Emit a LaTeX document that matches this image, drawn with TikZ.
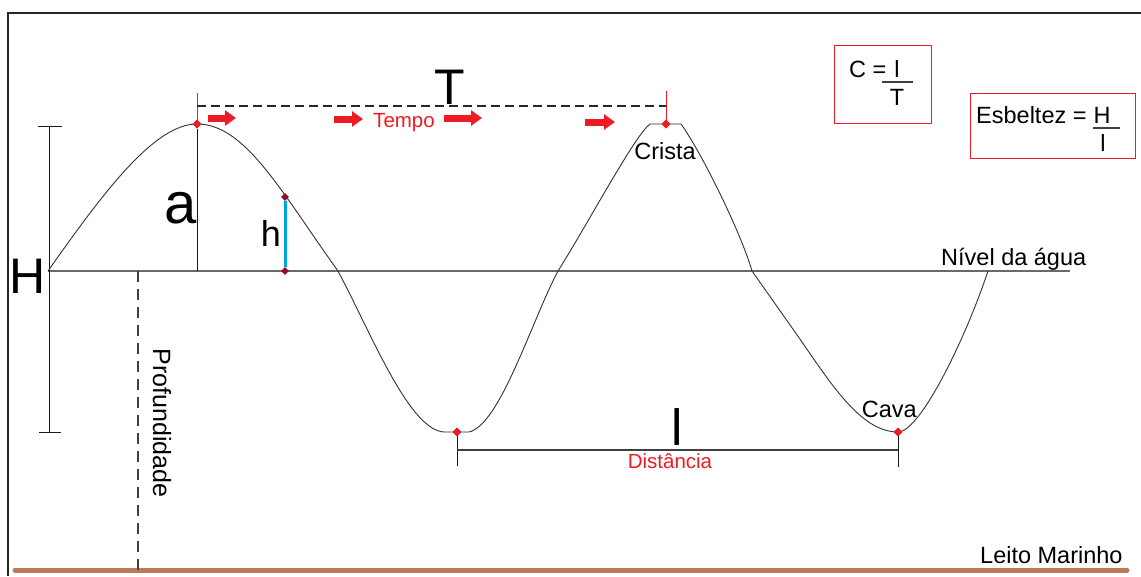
\documentclass[tikz,border=0pt]{standalone}
\usepackage{fontspec}
\setmainfont{Liberation Sans}
\usetikzlibrary{arrows.meta,shapes.geometric}
\definecolor{wred}{RGB}{237,28,36}
\definecolor{dred}{RGB}{150,10,40}
\definecolor{hblue}{RGB}{0,162,232}
\definecolor{bed}{RGB}{185,122,87}
\definecolor{wgray}{RGB}{105,105,105}
\begin{document}
\begin{tikzpicture}[x=1pt,y=-1pt,
  txt/.style={inner sep=0pt, font=\fontsize{23.5}{26}\selectfont},
  rtxt/.style={inner sep=0pt, text=wred, font=\fontsize{20.5}{22}\selectfont},
  bigtxt/.style={inner sep=0pt, font=\fontsize{50}{54}\selectfont},
  wave/.style={draw=black!80, line width=0.9pt},
  rdia/.style={diamond, fill=wred, inner sep=0pt, minimum size=9pt},
  ddia/.style={diamond, fill=dred, inner sep=0pt, minimum size=8pt},
  dimline/.style={draw=black!90, line width=0.9pt},
  redtick/.style={draw=wred, line width=1pt},
  blockarrow/.style={draw=wred, line width=7pt, -{Triangle[length=11pt,width=15pt]}},
  fbox/.style={draw=wred, line width=1.2pt, inner sep=0pt, anchor=north west},
  fracbar/.style={draw=black!75, line width=1.3pt}
]
\useasboundingbox (0,0) rectangle (1141,576);

% frame
\draw[line width=2pt, black!85] (8,576) -- (8,13) -- (1141,13);

% sea bed
\coordinate (bedL) at (15,570);
\coordinate (bedR) at (1127,570);
\draw[bed, line width=5pt, line cap=round] (bedL) -- (bedR);
\node[txt, anchor=base west] (leito) at (980,563) {Leito Marinho};

% water level
\coordinate (wl0) at (48,271);
\coordinate (wl1) at (1070,271);
\draw[wgray, line width=1.8pt] (wl0) -- (wl1);
\node[txt, anchor=base west] (nivel) at (941,265) {Nível da água};

% depth
\coordinate (pTop) at (138,271);
\coordinate (pBot) at (138,572);
\draw[black!75, line width=1.2pt, dash pattern=on 11pt off 7pt] (pTop) -- (pBot);
\node[inner sep=0pt, font=\fontsize{25}{28}\selectfont, rotate=-90] (prof) at (162,423) {Profundidade};

% H dimension
\coordinate (Htop) at (49,126);
\coordinate (Hbot) at (49,432);
\draw[dimline] (Htop) -- (Hbot);
\draw[dimline] (38,126) -- (62,126);
\draw[dimline] (39,432) -- (61,432);
\node[bigtxt, anchor=base] (Hlbl) at (28,293) {H};

% wave
\draw[wave] (48,271) .. controls (105,190) and (155,124) .. (197,124)
  .. controls (245,124) and (280,190) .. (338,271)
  .. controls (372,335) and (410,432) .. (445,432)
  -- (469,432)
  .. controls (500,425) and (532,320) .. (558,271)
  .. controls (590,220) and (635,135) .. (650,124)
  -- (681,124)
  .. controls (700,150) and (740,230) .. (752,271)
  -- (795,332)
  .. controls (830,382) and (860,432) .. (898,432)
  .. controls (920,432) and (965,340) .. (988,271);

% markers
\node[rdia] (crest1) at (197,124) {};
\node[rdia] (crest2) at (666,124) {};
\node[rdia] (trough1) at (457,432) {};
\node[rdia] (trough2) at (898,432) {};

% amplitude a
\coordinate (aBot) at (197,271);
\draw[black!90, line width=1pt] (crest1) -- (aBot);
\node[inner sep=0pt, font=\fontsize{58}{60}\selectfont, anchor=base] (alb) at (181,223) {a};

% h
\node[ddia] (hTop) at (285,197) {};
\node[ddia] (hBot) at (285,271) {};
\draw[hblue, line width=3pt] (hTop) -- (hBot);
\node[inner sep=0pt, font=\fontsize{36}{38}\selectfont, anchor=base] (hlb) at (271,246) {h};

% period T
\coordinate (t1top) at (197,93);
\coordinate (t2top) at (666,91);
\draw[redtick] (t1top) -- (crest1.center);
\draw[redtick] (t2top) -- (crest2.center);
\node[rdia] at (197,124) {};
\node[rdia] at (666,124) {};
\coordinate (tdL) at (197,106);
\coordinate (tdR) at (666,106);
\draw[black!85, line width=1.2pt, dash pattern=on 9pt off 5pt] (tdL) -- (tdR);
\node[bigtxt, anchor=base] (Tlbl) at (450,104) {T};

% time arrows
\coordinate (a1s) at (208,118); \coordinate (a1e) at (236,118);
\coordinate (a2s) at (334,119); \coordinate (a2e) at (363,119);
\coordinate (a3s) at (444,118); \coordinate (a3e) at (482,118);
\coordinate (a4s) at (585,122); \coordinate (a4e) at (615,122);
\draw[blockarrow] (a1s) -- (a1e);
\draw[blockarrow] (a2s) -- (a2e);
\draw[blockarrow] (a3s) -- (a3e);
\draw[blockarrow] (a4s) -- (a4e);
\node[rtxt, anchor=base] (tempo) at (404,127) {Tempo};

\node[txt, anchor=base] (crista) at (665,159) {Crista};
\node[txt, anchor=base east] (cava) at (917,417) {Cava};

% wavelength l
\coordinate (d1b) at (457,466);
\coordinate (d2b) at (898,467);
\coordinate (dL) at (457,450);
\coordinate (dR) at (898,450);
\draw[black!90, line width=1pt] (trough1.center) -- (d1b);
\draw[black!90, line width=1pt] (trough2.center) -- (d2b);
\node[rdia] at (457,432) {};
\node[rdia] at (898,432) {};
\draw[black!75, line width=1.5pt] (dL) -- (dR);
\node[inner sep=0pt, font=\fontsize{51}{54}\selectfont, anchor=base] (llbl) at (677,445) {l};
\node[rtxt, anchor=base] (dist) at (670,468) {Distância};

% formula boxes
\node[fbox, minimum width=97pt, minimum height=78pt] (boxC) at (834,45) {};
\node[txt, anchor=base west] (ceq) at (849,77) {C =};
\node[txt, anchor=base] (cl) at (897,77) {l};
\draw[fracbar] (882,82) -- (913,82);
\node[txt, anchor=base] (cT) at (897,105) {T};

\node[fbox, minimum width=165pt, minimum height=65pt] (boxE) at (970,93) {};
\node[txt, anchor=base west] (eeq) at (976,123) {Esbeltez =};
\node[txt, anchor=base] (eH) at (1102,123) {H};
\draw[fracbar] (1093,128) -- (1120,128);
\node[txt, anchor=base] (el) at (1103,151) {l};
\end{tikzpicture}
\end{document}
